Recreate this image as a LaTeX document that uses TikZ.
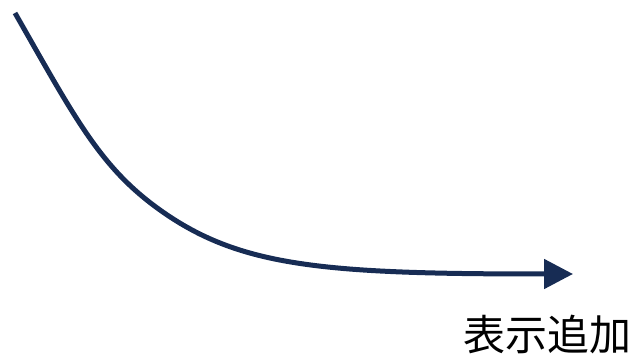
\documentclass[tikz,border=0pt]{standalone}
\usepackage{fontspec}
\newfontfamily\cjk{Noto Sans CJK JP}
\usetikzlibrary{arrows.meta}
\definecolor{navy}{HTML}{172C54}
\tikzset{
  curvearrow/.style={draw=navy, line width=5pt, -{Triangle[length=29pt,width=29pt]}},
  labeltext/.style={font=\cjk\fontsize{42pt}{42pt}\selectfont, text=black, inner sep=0pt}
}
\begin{document}
\begin{tikzpicture}[x=1pt,y=-1pt]
\useasboundingbox (0,0) rectangle (633,355);
\coordinate (start) at (15,13);
\coordinate (bend) at (160,210);
\coordinate (tip) at (573,274);
\draw[curvearrow] (start) .. controls (75,118) and (100,167.3) .. (bend)
  .. controls (240,267) and (323,274) .. (tip);
\node[labeltext] (lbl) at (547.5,335) {表示追加};
\end{tikzpicture}
\end{document}
